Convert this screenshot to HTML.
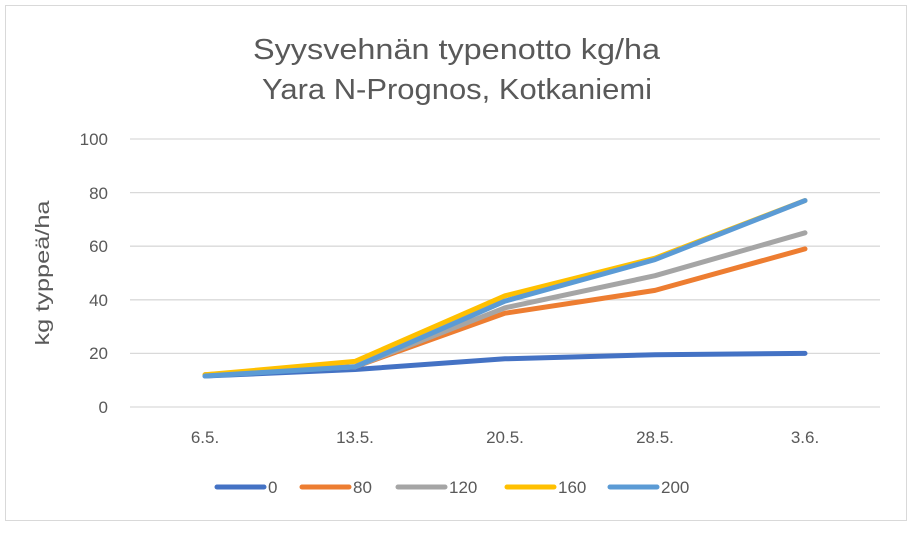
<!DOCTYPE html>
<html><head><meta charset="utf-8"><style>
body{margin:0;background:#fff;}
text{font-family:"Liberation Sans",sans-serif;fill:#595959;}
</style></head><body>
<svg width="912" height="528" xmlns="http://www.w3.org/2000/svg">
<rect x="5.5" y="5.5" width="901" height="515" fill="#fff" stroke="#d9d9d9"/>
<text x="253" y="59" font-size="29" textLength="407" lengthAdjust="spacingAndGlyphs">Syysvehnän typenotto kg/ha</text>
<text x="262" y="99" font-size="29" textLength="390" lengthAdjust="spacingAndGlyphs">Yara N-Prognos, Kotkaniemi</text>
<g stroke="#d9d9d9" stroke-width="1.3">
<line x1="130" x2="880" y1="139" y2="139"/><line x1="130" x2="880" y1="192.6" y2="192.6"/>
<line x1="130" x2="880" y1="246.2" y2="246.2"/><line x1="130" x2="880" y1="299.8" y2="299.8"/>
<line x1="130" x2="880" y1="353.4" y2="353.4"/><line x1="130" x2="880" y1="407" y2="407"/>
</g>
<g font-size="17" text-anchor="end">
<text x="108" y="145">100</text><text x="108" y="199">80</text><text x="108" y="252">60</text>
<text x="108" y="306">40</text><text x="108" y="359">20</text><text x="108" y="413">0</text>
</g>
<text transform="translate(49,273) rotate(-90)" font-size="19" text-anchor="middle" textLength="145" lengthAdjust="spacingAndGlyphs">kg typpeä/ha</text>
<g font-size="17" text-anchor="middle">
<text x="205" y="443">6.5.</text><text x="355" y="443">13.5.</text><text x="505" y="443">20.5.</text>
<text x="655" y="443">28.5.</text><text x="805" y="443">3.6.</text>
</g>
<g fill="none" stroke-width="5" stroke-linejoin="round" stroke-linecap="round">
<polyline stroke="#4472c4" points="205,376 355,369.5 505,358.8 655,354.7 805,353.4"/>
<polyline stroke="#ed7d31" points="205,374.8 355,366.8 505,313.2 655,290.4 805,248.9"/>
<polyline stroke="#a5a5a5" points="205,374.8 355,366.8 505,307.8 655,275.7 805,232.8"/>
<polyline stroke="#ffc000" points="205,374.8 355,361.4 505,295.8 655,258.2 805,200.6"/>
<polyline stroke="#5b9bd5" points="205,376 355,366.8 505,301.1 655,259.6 805,200.6"/>
</g>
<g stroke-width="5" stroke-linecap="round">
<line x1="217" x2="264" y1="487" y2="487" stroke="#4472c4"/>
<line x1="302" x2="349" y1="487" y2="487" stroke="#ed7d31"/>
<line x1="398" x2="445" y1="487" y2="487" stroke="#a5a5a5"/>
<line x1="507" x2="554" y1="487" y2="487" stroke="#ffc000"/>
<line x1="610" x2="657" y1="487" y2="487" stroke="#5b9bd5"/>
</g>
<g font-size="17">
<text x="268" y="493">0</text><text x="353" y="493">80</text><text x="449" y="493">120</text>
<text x="558" y="493">160</text><text x="661" y="493">200</text>
</g>
</svg>
</body></html>
